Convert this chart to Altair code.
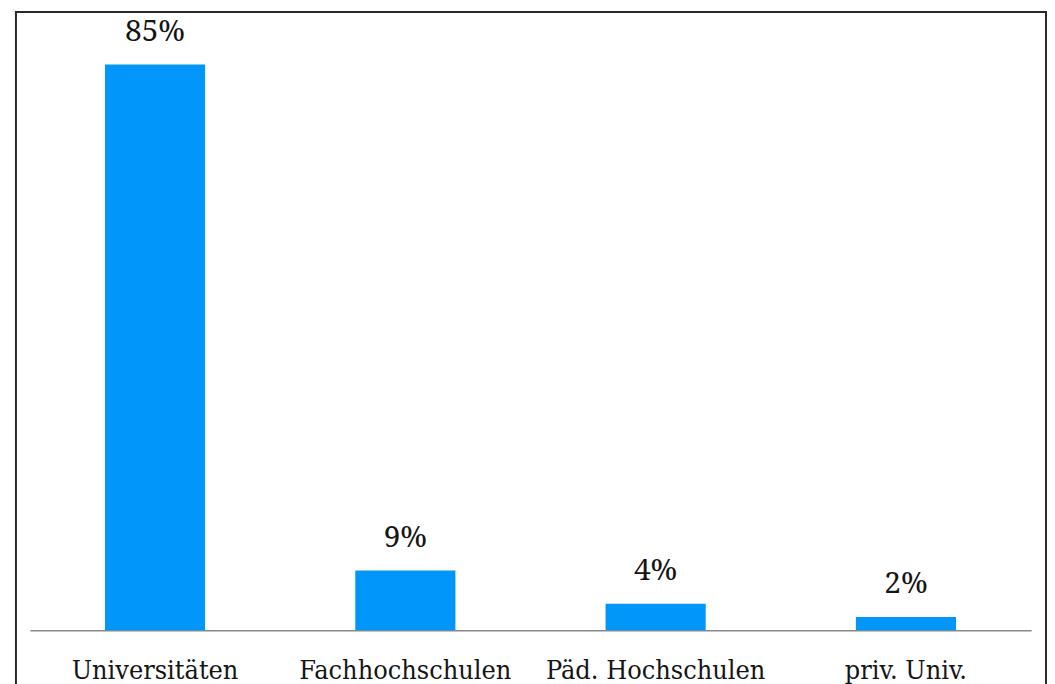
import altair as alt
import pandas as pd

categories = ["Universitäten", "Fachhochschulen", "Päd. Hochschulen", "priv. Univ."]
shares = [85, 9, 4, 2]

df = pd.DataFrame({"cat": categories, "v": shares})

FONT_AX = "DejaVu Serif Condensed"
FONT_TX = "Noto Serif"
BLUE = "#0096FA"

x = alt.X("cat:N", sort=categories,
          scale=alt.Scale(paddingInner=0.6, paddingOuter=0.3),
          axis=alt.Axis(title=None, labelAngle=0, ticks=False, grid=False,
                        domainColor="#8a8a8a", domainWidth=1.5,
                        labelFont=FONT_AX, labelFontSize=27, labelColor="#151515",
                        labelPadding=48, labelBaseline="alphabetic", labelLimit=0))
y = alt.Y("v:Q", scale=alt.Scale(domain=[0, 92], nice=False, zero=True), axis=None)

base = alt.Chart(df)
bars = base.mark_bar(color=BLUE).encode(x=x, y=y)
labels = base.transform_calculate(lab="datum.v + '%'").mark_text(
    font=FONT_TX, fontSize=30, color="#151515", baseline="alphabetic", dy=-24
).encode(x=x, y=y, text="lab:N")

border = alt.Chart(pd.DataFrame({"a": [0]})).mark_rect(
    fill=None, stroke="#2a2a2a", strokeWidth=2
).encode(x=alt.value(-14), x2=alt.value(1022), y=alt.value(-6), y2=alt.value(720))

chart = alt.layer(bars, labels, border).properties(
    width=1007, height=616,
    padding={"left": 22, "top": 8, "right": 16, "bottom": 52},
    autosize=alt.AutoSizeParams(type="none"),
    background="white",
).configure_view(stroke=None)

chart.save("out.html", embed_options={"renderer": "svg", "actions": False})
